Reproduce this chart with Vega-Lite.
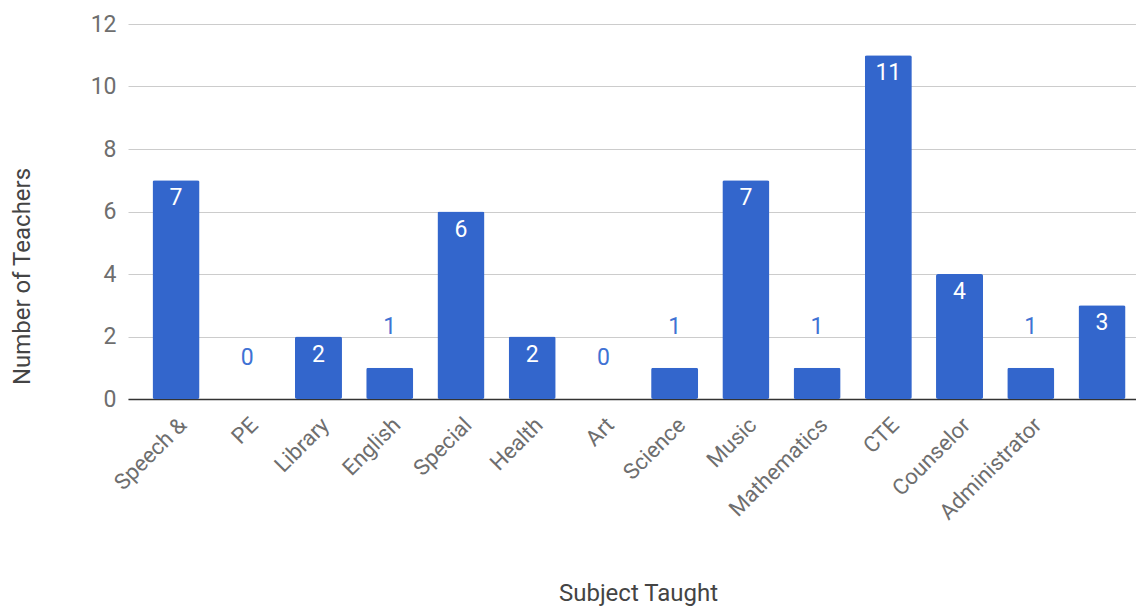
{
  "$schema": "https://vega.github.io/schema/vega-lite/v6.json",
  "width": 1008,
  "height": 375,
  "autosize": "none",
  "padding": {"left": 128, "top": 24, "right": 0, "bottom": 210},
  "background": "white",
  "config": {
    "view": {"stroke": null},
    "font": "Roboto"
  },
  "data": {
    "values": [
      {"subject": "Speech &", "order": 1, "teachers": 7},
      {"subject": "PE", "order": 2, "teachers": 0},
      {"subject": "Library", "order": 3, "teachers": 2},
      {"subject": "English", "order": 4, "teachers": 1},
      {"subject": "Special", "order": 5, "teachers": 6},
      {"subject": "Health", "order": 6, "teachers": 2},
      {"subject": "Art", "order": 7, "teachers": 0},
      {"subject": "Science", "order": 8, "teachers": 1},
      {"subject": "Music", "order": 9, "teachers": 7},
      {"subject": "Mathematics", "order": 10, "teachers": 1},
      {"subject": "CTE", "order": 11, "teachers": 11},
      {"subject": "Counselor", "order": 12, "teachers": 4},
      {"subject": "Administrator", "order": 13, "teachers": 1},
      {"subject": " ", "order": 14, "teachers": 3}
    ]
  },
  "encoding": {
    "x": {
      "field": "subject",
      "type": "nominal",
      "sort": {"field": "order", "op": "min"},
      "scale": {"range": [0, 1022], "paddingInner": 0.34, "paddingOuter": 0.344},
      "axis": {
        "title": "Subject Taught",
        "titleFont": "Roboto",
        "titleFontSize": 24,
        "titleFontWeight": "normal",
        "titleColor": "#444444",
        "titleX": 510,
        "titleY": 194,
        "titleBaseline": "middle",
        "titleAnchor": null,
        "labelAngle": -45,
        "labelFontSize": 22,
        "labelColor": "#6e6e6e",
        "labelPadding": 15,
        "labelOverlap": false,
        "ticks": false,
        "domainColor": "#333333",
        "domainWidth": 1.5,
        "grid": false
      }
    },
    "y": {
      "field": "teachers",
      "type": "quantitative",
      "scale": {"domain": [0, 12], "nice": false},
      "axis": {
        "title": "Number of Teachers",
        "titleFont": "Roboto",
        "titleFontSize": 24,
        "titleFontWeight": "normal",
        "titleColor": "#444444",
        "titleX": -106,
        "titleY": 252,
        "titleAngle": -90,
        "titleAlign": "center",
        "titleBaseline": "middle",
        "values": [0, 2, 4, 6, 8, 10, 12],
        "labelFontSize": 23,
        "labelColor": "#6e6e6e",
        "labelPadding": 12,
        "ticks": false,
        "domain": false,
        "gridColor": "#cccccc",
        "gridWidth": 1
      }
    }
  },
  "layer": [
    {
      "mark": {"type": "bar", "color": "#3366cc", "cornerRadius": 2}
    },
    {
      "transform": [{"filter": "datum.teachers >= 2"}],
      "mark": {"type": "text", "color": "white", "baseline": "top", "dy": 7, "fontSize": 23, "font": "Roboto"},
      "encoding": {"text": {"field": "teachers", "type": "quantitative"}}
    },
    {
      "transform": [{"filter": "datum.teachers < 2"}],
      "mark": {"type": "text", "color": "#3f72d4", "baseline": "bottom", "dy": -29, "fontSize": 23, "font": "Roboto"},
      "encoding": {"text": {"field": "teachers", "type": "quantitative"}}
    }
  ]
}
